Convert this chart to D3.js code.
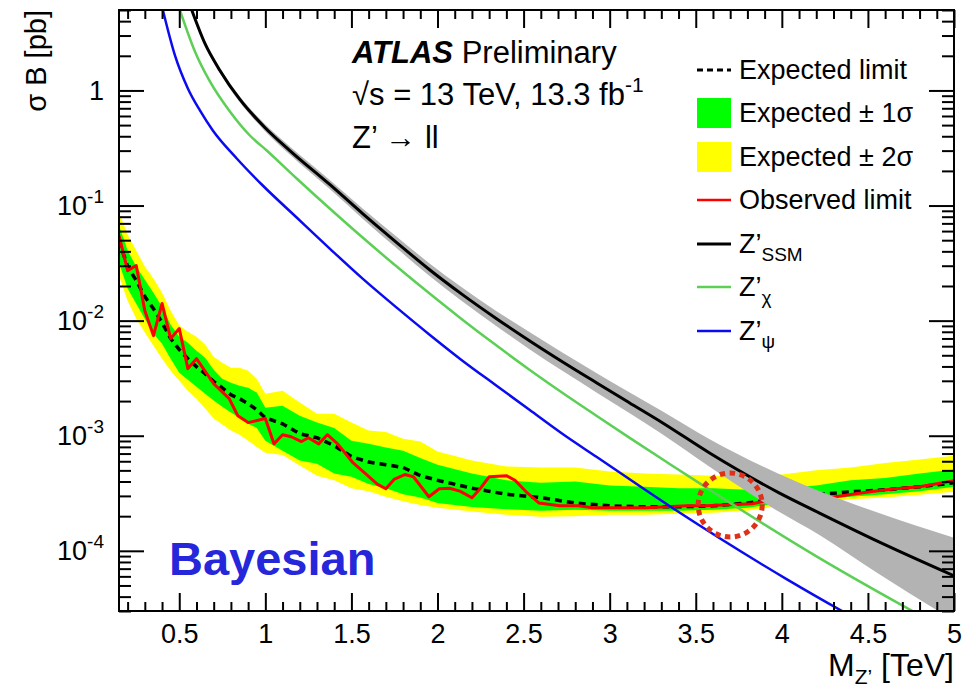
<!DOCTYPE html>
<html>
<head>
<meta charset="utf-8">
<script src="https://cdn.jsdelivr.net/npm/d3@7"></script>
<style>
  body { margin: 0; background: #fff; }
  svg { display: block; }
  text { font-family: "Liberation Sans", Arial, Helvetica, sans-serif; }
</style>
</head>
<body>
<svg id="chart" width="976" height="689"></svg>
<script>
// ---- Expected limit and its ±1σ / ±2σ bands (σB in pb vs M_Z' in TeV) ----
const massGrid = [0.15, 0.20, 0.25, 0.30, 0.35, 0.40, 0.45, 0.50, 0.55, 0.60, 0.65, 0.70, 0.75, 0.80, 0.85, 0.90, 0.95,
  1.0, 1.1, 1.2, 1.3, 1.4, 1.5, 1.6, 1.7, 1.8, 1.9, 2.0,
  2.2, 2.4, 2.6, 2.8, 3.0, 3.2, 3.4, 3.6, 3.8, 4.0, 4.2, 4.4, 4.6, 4.8, 5.0];
const expected = [0.0496, 0.0295, 0.0223, 0.0162, 0.0127, 0.00961, 0.00698, 0.00560, 0.00467, 0.00398, 0.00346, 0.00295, 0.00261, 0.00227, 0.00210, 0.00190, 0.00168,
  0.00143, 0.00127, 0.00104, 9.6e-4, 8.2e-4, 6.6e-4, 5.9e-4, 5.6e-4, 5.3e-4, 4.5e-4, 4.1e-4,
  3.5e-4, 3.1e-4, 2.9e-4, 2.6e-4, 2.46e-4, 2.41e-4, 2.41e-4, 2.46e-4, 2.6e-4, 2.89e-4, 3.07e-4, 3.26e-4, 3.39e-4, 3.6e-4, 3.9e-4];
const band1Up = [0.0670, 0.0406, 0.0295, 0.0227, 0.0175, 0.0132, 0.00923, 0.00726, 0.00644, 0.00548, 0.00477, 0.00375, 0.00313, 0.00289, 0.00272, 0.00261, 0.00237,
  0.00175, 0.00182, 0.00149, 0.00130, 0.00117, 9.05e-4, 8.5e-4, 7.9e-4, 7.4e-4, 6.4e-4, 5.6e-4,
  4.7e-4, 4.1e-4, 3.9e-4, 4.0e-4, 3.7e-4, 3.6e-4, 3.5e-4, 3.5e-4, 3.4e-4, 3.5e-4, 3.7e-4, 4.1e-4, 4.3e-4, 4.7e-4, 5.1e-4];
const band1Dn = [0.0319, 0.0190, 0.0140, 0.0104, 0.00771, 0.00631, 0.00467, 0.00353, 0.00307, 0.00267, 0.00232, 0.00202, 0.00179, 0.00159, 0.00143, 0.00127, 0.00117,
  9.05e-4, 7.4e-4, 6.1e-4, 5.7e-4, 4.7e-4, 4.4e-4, 3.8e-4, 3.5e-4, 3.1e-4, 2.9e-4, 2.6e-4,
  2.4e-4, 2.3e-4, 2.23e-4, 2.27e-4, 2.23e-4, 2.23e-4, 2.23e-4, 2.27e-4, 2.37e-4, 2.6e-4, 2.8e-4, 2.95e-4, 3.1e-4, 3.3e-4, 3.6e-4];
const band2Up = [0.0870, 0.0560, 0.0406, 0.0295, 0.0232, 0.0175, 0.0122, 0.00905, 0.00802, 0.00726, 0.00619, 0.00486, 0.00431, 0.00390, 0.00390, 0.00367, 0.00313,
  0.00232, 0.00246, 0.00194, 0.00155, 0.00155, 0.00130, 0.00111, 0.00108, 9.4e-4, 8.9e-4, 7.3e-4,
  6.1e-4, 5.4e-4, 5.3e-4, 5.3e-4, 4.9e-4, 4.7e-4, 4.6e-4, 4.5e-4, 4.4e-4, 4.6e-4, 5.0e-4, 5.3e-4, 5.8e-4, 6.2e-4, 6.7e-4];
const band2Dn = [0.0246, 0.0149, 0.0104, 0.00787, 0.00606, 0.00467, 0.00367, 0.00301, 0.00246, 0.00210, 0.00172, 0.00141, 0.00125, 0.00111, 0.00102, 9.05e-4, 8.0e-4,
  7.1e-4, 6.8e-4, 5.5e-4, 4.5e-4, 4.1e-4, 3.5e-4, 3.3e-4, 2.95e-4, 2.7e-4, 2.5e-4, 2.37e-4,
  2.2e-4, 2.06e-4, 1.98e-4, 2.0e-4, 2.06e-4, 2.06e-4, 2.1e-4, 2.14e-4, 2.23e-4, 2.46e-4, 2.6e-4, 2.8e-4, 2.9e-4, 3.07e-4, 3.26e-4];

// ---- Observed limit ----
const obsMass = [0.15, 0.20, 0.25, 0.30, 0.35, 0.40, 0.45, 0.50, 0.55, 0.60, 0.70, 0.79, 0.84, 0.90, 1.00,
  1.05, 1.10, 1.15, 1.21, 1.25, 1.31, 1.36, 1.42, 1.51, 1.58, 1.65, 1.70, 1.75, 1.81, 1.86,
  1.95, 2.01, 2.07, 2.13, 2.20, 2.25, 2.30, 2.40, 2.45, 2.52, 2.59, 2.71, 2.82, 2.90, 3.06,
  3.21, 3.33, 3.45, 3.56, 3.68, 3.83, 3.98, 4.27, 4.47, 4.56, 4.66, 4.80, 4.90, 5.00];
const observed = [0.0548, 0.0272, 0.0301, 0.0122, 0.00741, 0.0141, 0.00698, 0.00853, 0.00383, 0.00467, 0.00283, 0.00210, 0.00149, 0.00130, 0.00141,
  8.5e-4, 0.00102, 9.8e-4, 8.9e-4, 9.6e-4, 8.5e-4, 0.00102, 8.5e-4, 5.8e-4, 4.7e-4, 3.8e-4, 3.46e-4, 4.2e-4, 4.6e-4, 4.4e-4,
  2.95e-4, 3.46e-4, 3.5e-4, 3.3e-4, 2.89e-4, 3.5e-4, 4.4e-4, 4.5e-4, 4.1e-4, 3.2e-4, 2.6e-4, 2.46e-4, 2.46e-4, 2.37e-4, 2.37e-4,
  2.37e-4, 2.41e-4, 2.46e-4, 2.46e-4, 2.51e-4, 2.56e-4, 2.89e-4, 2.89e-4, 3.19e-4, 3.32e-4, 3.46e-4, 3.6e-4, 3.83e-4, 4.06e-4];

// ---- Theory predictions ----
const ssmMass = [0.573, 0.649, 0.736, 0.852, 0.997, 1.142, 1.374, 1.565, 1.763, 1.954, 2.145, 2.343, 2.534, 2.725, 2.923, 3.114, 3.306, 3.578, 3.984, 4.216, 4.564, 5.0];
const ssm     = [4.97, 2.56, 1.493, 0.835, 0.477, 0.3007, 0.1524, 0.0851, 0.0477, 0.0277, 0.01683, 0.0104, 0.0067, 0.0044, 0.00289, 0.001936, 0.001297, 7.11e-4, 3.19e-4, 2.14e-4, 1.197e-4, 6.07e-5];
const ssmUp   = [5.20, 2.68, 1.571, 0.884, 0.511, 0.326, 0.167, 0.0944, 0.0535, 0.03144, 0.01932, 0.01207, 0.00797, 0.00529, 0.00351, 0.002381, 0.001633, 9.37e-4, 4.66e-4, 3.31e-4, 2.13e-4, 1.30e-4];
const ssmDn   = [4.75, 2.44, 1.419, 0.788, 0.445, 0.2775, 0.139, 0.0768, 0.0425, 0.0244, 0.01466, 0.00895, 0.00563, 0.00366, 0.00238, 0.001574, 0.00103, 5.40e-4, 2.18e-4, 1.38e-4, 6.28e-5, 2.47e-5];
const chiMass = [0.504, 0.591, 0.678, 0.794, 0.910, 1.008, 1.182, 1.374, 1.565, 1.763, 1.954, 2.145, 2.343, 2.534, 2.725, 2.923, 3.114, 3.346, 3.636, 4.216, 4.767, 5.0];
const chi     = [4.97, 2.183, 1.197, 0.656, 0.406, 0.3007, 0.1718, 0.0942, 0.0527, 0.0295, 0.01718, 0.0102, 0.00607, 0.00375, 0.002366, 0.001493, 9.62e-4, 5.71e-4, 3.0e-4, 8.69e-5, 2.95e-5, 1.9e-5];
const psiMass = [0.405, 0.475, 0.550, 0.620, 0.695, 0.834, 0.985, 1.182, 1.374, 1.565, 1.763, 1.954, 2.145, 2.343, 2.534, 2.725, 2.923, 3.363, 4.025, 4.350, 4.564];
const psi     = [4.97, 2.014, 1.04, 0.67, 0.4487, 0.2564, 0.1493, 0.0787, 0.0423, 0.02317, 0.01297, 0.00755, 0.00449, 0.00272, 0.00168, 0.00104, 6.56e-4, 2.366e-4, 5.71e-5, 3.0e-5, 2.01e-5];

// ---- Axis ticks and labels ----
const xMajorTicks = [0.5, 1, 1.5, 2, 2.5, 3, 3.5, 4, 4.5, 5];
const yMajorTicks = [1e-4, 1e-3, 1e-2, 1e-1, 1];
const yTickExponents = [-4, -3, -2, -1, 0];
const highlight = { mass: 3.7, xs: 2.5e-4 };   // dotted circle marking the crossing region

const legendItems = [
  { label: "Expected limit", sub: null, kind: "dash" },
  { label: "Expected ± 1σ", sub: null, kind: "box", color: "#00ff00" },
  { label: "Expected ± 2σ", sub: null, kind: "box", color: "#ffff00" },
  { label: "Observed limit", sub: null, kind: "line", color: "#ff0000", w: 2.5 },
  { label: "Z’", sub: "SSM", kind: "line", color: "#000000", w: 3 },
  { label: "Z’", sub: "χ", kind: "line", color: "#5ccf55", w: 2.5 },
  { label: "Z’", sub: "ψ", kind: "line", color: "#0b0bf0", w: 2.5 }
];

// ---- Layout ----
const plot = { left: 119, right: 954, top: 10, bottom: 611 };
const x = d3.scaleLinear().domain([0.15, 5]).range([plot.left, plot.right]);
const y = d3.scaleLog().domain([3e-5, 5]).range([plot.bottom, plot.top]);

const svg = d3.select("#chart");
svg.append("rect").attr("width", 976).attr("height", 689).attr("fill", "#fff");

svg.append("defs").append("clipPath").attr("id", "plot-clip")
  .append("rect")
  .attr("x", plot.left).attr("y", plot.top)
  .attr("width", plot.right - plot.left).attr("height", plot.bottom - plot.top);

const g = svg.append("g").attr("clip-path", "url(#plot-clip)");

const idx = d3.range(massGrid.length);
const bandArea = (lo, hi) => d3.area()
  .x(i => x(massGrid[i])).y0(i => y(lo[i])).y1(i => y(hi[i]));

// ±2σ then ±1σ bands
g.append("path").attr("d", bandArea(band2Dn, band2Up)(idx)).attr("fill", "#ffff00");
g.append("path").attr("d", bandArea(band1Dn, band1Up)(idx)).attr("fill", "#00ff00");

// Expected limit (dashed)
g.append("path")
  .attr("d", d3.line().x(i => x(massGrid[i])).y(i => y(expected[i]))(idx))
  .attr("fill", "none").attr("stroke", "#000").attr("stroke-width", 3.5)
  .attr("stroke-dasharray", "7 5");

// Observed limit
const oIdx = d3.range(obsMass.length);
g.append("path")
  .attr("d", d3.line().x(i => x(obsMass[i])).y(i => y(observed[i]))(oIdx))
  .attr("fill", "none").attr("stroke", "#ff0000").attr("stroke-width", 3)
  .attr("stroke-linejoin", "round");

// Theory curves
function theory(ms, vs, color, w) {
  const ii = d3.range(ms.length);
  g.append("path")
    .attr("d", d3.line().curve(d3.curveMonotoneX).x(i => x(ms[i])).y(i => y(vs[i]))(ii))
    .attr("fill", "none").attr("stroke", color).attr("stroke-width", w);
}
theory(psiMass, psi, "#0b0bf0", 2.5);
theory(chiMass, chi, "#5ccf55", 2.5);

// SSM with its theory uncertainty band
const sIdx = d3.range(ssmMass.length);
g.append("path")
  .attr("d", d3.area().curve(d3.curveMonotoneX)
    .x(i => x(ssmMass[i])).y0(i => y(ssmDn[i])).y1(i => y(ssmUp[i]))(sIdx))
  .attr("fill", "#b3b3b3");
theory(ssmMass, ssm, "#000", 3);

// Dotted circle highlighting the crossing point
svg.append("circle")
  .attr("cx", x(highlight.mass)).attr("cy", y(highlight.xs)).attr("r", 32)
  .attr("fill", "none").attr("stroke", "#e0301a").attr("stroke-width", 5)
  .attr("stroke-dasharray", "5.5 4.5");

// ---- Axes ----
const xMinor = d3.range(2, 50).map(v => v / 10).filter(v => Math.abs(v * 2 - Math.round(v * 2)) > 1e-6);
const yMinor = [];
for (let e = -5; e <= 0; e++) for (let k = 2; k <= 9; k++) {
  const v = k * Math.pow(10, e);
  if (v >= 3e-5 && v <= 5) yMinor.push(v);
}

function styleAxis(sel) {
  sel.select(".domain").remove();
  sel.selectAll(".tick line").attr("stroke", "#000").attr("stroke-width", 2);
  sel.attr("font-family", null).attr("font-size", 27);
  sel.selectAll(".tick text").attr("fill", "#000");
}

// bottom
svg.append("g").attr("transform", `translate(0,${plot.bottom})`)
  .call(d3.axisBottom(x).tickValues(xMajorTicks).tickSize(-18).tickPadding(13).tickFormat(d3.format("~g")))
  .call(styleAxis);
svg.append("g").attr("transform", `translate(0,${plot.bottom})`)
  .call(d3.axisBottom(x).tickValues(xMinor).tickSize(-9).tickFormat(""))
  .call(styleAxis);
// top
svg.append("g").attr("transform", `translate(0,${plot.top})`)
  .call(d3.axisTop(x).tickValues(xMajorTicks).tickSize(-18).tickFormat(""))
  .call(styleAxis);
svg.append("g").attr("transform", `translate(0,${plot.top})`)
  .call(d3.axisTop(x).tickValues(xMinor).tickSize(-9).tickFormat(""))
  .call(styleAxis);
// left
const leftAxis = svg.append("g").attr("transform", `translate(${plot.left},0)`)
  .call(d3.axisLeft(y).tickValues(yMajorTicks).tickSize(-25).tickPadding(15).tickFormat(""))
  .call(styleAxis);
svg.append("g").attr("transform", `translate(${plot.left},0)`)
  .call(d3.axisLeft(y).tickValues(yMinor).tickSize(-12).tickFormat(""))
  .call(styleAxis);
// right
svg.append("g").attr("transform", `translate(${plot.right},0)`)
  .call(d3.axisRight(y).tickValues(yMajorTicks).tickSize(-25).tickFormat(""))
  .call(styleAxis);
svg.append("g").attr("transform", `translate(${plot.right},0)`)
  .call(d3.axisRight(y).tickValues(yMinor).tickSize(-12).tickFormat(""))
  .call(styleAxis);

// y tick labels as powers of ten
leftAxis.selectAll(".tick text").each(function(d) {
  const t = d3.select(this).text(null);
  const ex = yTickExponents[yMajorTicks.indexOf(d)];
  if (ex === 0) { t.append("tspan").text("1"); }
  else {
    t.append("tspan").text("10");
    t.append("tspan").attr("font-size", 19).attr("dy", -12).text(String(ex));
  }
});

// frame
svg.append("rect")
  .attr("x", plot.left).attr("y", plot.top)
  .attr("width", plot.right - plot.left).attr("height", plot.bottom - plot.top)
  .attr("fill", "none").attr("stroke", "#000").attr("stroke-width", 2);

// axis titles
svg.append("text")
  .attr("transform", `translate(46,${plot.top}) rotate(-90)`)
  .attr("text-anchor", "end").attr("font-size", 29)
  .text("σ B [pb]");

const xt = svg.append("text").attr("x", plot.right).attr("y", 676)
  .attr("text-anchor", "end").attr("font-size", 32);
xt.append("tspan").text("M");
xt.append("tspan").attr("font-size", 21).attr("dy", 8).text("Z’");
xt.append("tspan").attr("dy", -8).text(" [TeV]");

// ---- Header text ----
const h1 = svg.append("text").attr("x", 352).attr("y", 63).attr("font-size", 31);
h1.append("tspan").attr("font-weight", "bold").attr("font-style", "italic").text("ATLAS");
h1.append("tspan").text(" Preliminary");
const h2 = svg.append("text").attr("x", 352).attr("y", 105).attr("font-size", 31);
h2.append("tspan").text("√s = 13 TeV, 13.3 fb");
h2.append("tspan").attr("font-size", 21).attr("dy", -13).text("-1");
svg.append("text").attr("x", 352).attr("y", 148).attr("font-size", 31).text("Z’ → ll");

svg.append("text").attr("x", 169).attr("y", 575)
  .attr("font-size", 47).attr("font-weight", "bold").attr("fill", "#2626da")
  .text("Bayesian");

// ---- Legend ----
const legend = svg.append("g");
const legRowY = [70, 113, 157, 200, 244, 287, 331];
legendItems.forEach((it, i) => {
  const cy = legRowY[i];
  if (it.kind === "dash") {
    legend.append("line").attr("x1", 697).attr("x2", 731).attr("y1", cy).attr("y2", cy)
      .attr("stroke", "#000").attr("stroke-width", 3).attr("stroke-dasharray", "6 4");
  } else if (it.kind === "box") {
    legend.append("rect").attr("x", 697).attr("y", cy - 15).attr("width", 34).attr("height", 30)
      .attr("fill", it.color);
  } else {
    legend.append("line").attr("x1", 697).attr("x2", 731).attr("y1", cy).attr("y2", cy)
      .attr("stroke", it.color).attr("stroke-width", it.w);
  }
  const t = legend.append("text").attr("x", 739).attr("y", cy + 9).attr("font-size", 27);
  t.append("tspan").text(it.label);
  if (it.sub) t.append("tspan").attr("font-size", 19).attr("dy", 8).text(it.sub);
});
</script>
</body>
</html>
